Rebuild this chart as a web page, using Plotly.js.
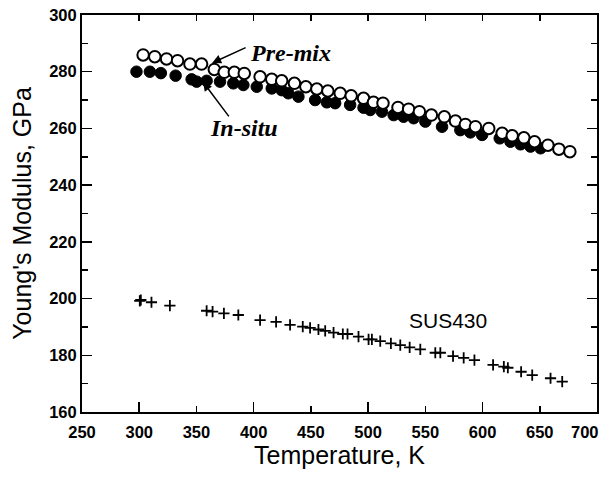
<!DOCTYPE html>
<html>
<head>
<meta charset="utf-8">
<script src="https://cdn.plot.ly/plotly-3.0.1.min.js"></script>
<style>html,body{margin:0;padding:0;background:#fff;}#chart{width:609px;height:477px;}</style>
</head>
<body>
<div id="chart"></div>
<script>
// Pre-mix (open circles)
const premixT = [303.4, 313.6, 323.9, 333.5, 344.3, 354.5, 365.6, 374.3, 383.1, 391.8, 405.6, 415.8, 424.5,
  435.6, 445.6, 455.2, 464.8, 475.6, 485.2, 496.0, 504.7, 513.0, 526.1, 535.4, 544.8, 555.3,
  566.6, 576.3, 585.0, 593.8, 605.4, 617.1, 625.9, 636.1, 645.4, 657.1, 666.7, 676.3];
const premixE = [285.9, 285.3, 284.5, 283.9, 282.7, 282.7, 280.8, 279.8, 279.8, 279.4, 278.2, 277.3, 276.8,
  275.9, 274.7, 273.9, 273.2, 272.4, 271.5, 270.6, 269.2, 268.9, 267.4, 266.8, 265.9, 264.7,
  264.1, 262.6, 261.4, 260.6, 260.0, 258.3, 257.4, 256.7, 255.3, 254.1, 252.7, 251.8];
// In-situ (filled circles)
const insituT = [297.6, 309.3, 318.9, 331.8, 345.8, 350.2, 358.9, 370.6, 382.2, 391.0, 402.7, 415.8, 424.5,
  430.3, 439.1, 453.7, 463.9, 471.2, 484.3, 496.0, 501.9, 512.1, 522.3, 531.0, 539.8, 550.0, 564.6,
  580.6, 589.4, 599.6, 615.0, 624.4, 633.2, 641.9, 650.7];
const insituE = [280.0, 280.0, 279.5, 278.6, 277.3, 276.5, 276.8, 276.5, 275.9, 275.3, 274.7, 274.1, 273.5,
  272.4, 271.2, 270.0, 269.2, 268.9, 268.3, 267.3, 266.5, 265.9, 264.7, 264.1, 263.6, 262.4, 260.6,
  259.4, 258.6, 257.7, 256.5, 255.3, 254.4, 253.6, 253.0];
// SUS430 (plus markers)
const susT = [300.5, 301.4, 310.7, 326.8, 358.9, 364.1, 374.0, 386.6, 405.6, 419.6, 431.8, 442.9, 449.3,
  456.6, 462.5, 469.8, 477.9, 482.0, 491.6, 500.4, 503.3, 510.6, 519.9, 528.1, 536.3, 545.6, 558.7,
  563.1, 574.2, 583.5, 592.9, 609.2, 618.6, 622.1, 633.7, 643.4, 659.4, 669.6];
const susE = [199.2, 199.5, 198.7, 197.5, 195.7, 195.4, 194.8, 194.2, 192.4, 191.8, 190.7, 190.1, 189.7,
  189.1, 188.6, 188.0, 187.5, 187.5, 186.6, 185.6, 185.6, 185.0, 184.2, 183.6, 182.8, 182.1, 180.9,
  180.9, 179.7, 179.1, 178.3, 176.6, 176.0, 175.6, 174.2, 173.0, 171.9, 170.7];

const xTickVals = [250, 300, 350, 400, 450, 500, 550, 600, 650, 700];
const xTickText = ['250', '300', '350', '400', '450', '500', '550', '600', '650', ''];
const xLastLabel = '700';
const xMajorVals = [300, 400, 500, 600];
const yTickVals = [160, 180, 200, 220, 240, 260, 280, 300];

const traces = [
  {x: insituT, y: insituE, type: 'scatter', mode: 'markers', name: 'In-situ',
   marker: {symbol: 'circle', size: 11.5, color: '#000', line: {color: '#000', width: 1}}},
  {x: premixT, y: premixE, type: 'scatter', mode: 'markers', name: 'Pre-mix',
   marker: {symbol: 'circle', size: 11.5, color: '#fff', line: {color: '#000', width: 2}}},
  {x: susT, y: susE, type: 'scatter', mode: 'markers', name: 'SUS430',
   marker: {symbol: 'cross-thin-open', size: 8, color: '#000', line: {color: '#000', width: 1.8}}},
  {x: [xMajorVals[0]], y: [yTickVals[0]], xaxis: 'x2', type: 'scatter', mode: 'markers',
   marker: {opacity: 0}, hoverinfo: 'skip', showlegend: false}
];

const tickFont = {family: 'Arial', size: 16.5, color: '#000', weight: 'bold'};
const titleFont = {family: 'Liberation Sans, Arial, sans-serif', size: 25, color: '#000'};
const annFont = {family: 'Liberation Serif, Times New Roman, serif', size: 24, color: '#000', weight: 'bold', style: 'italic'};

const layout = {
  width: 609, height: 477,
  margin: {l: 82, r: 12, t: 15, b: 65},
  paper_bgcolor: '#fff', plot_bgcolor: '#fff',
  showlegend: false,
  xaxis: {
    range: [250, 700], tickvals: xTickVals, ticktext: xTickText,
    ticks: 'inside', ticklen: 6, tickwidth: 1.5, tickcolor: '#000', ticklabeloverflow: 'allow',
    showline: true, linecolor: '#000', linewidth: 2, mirror: 'ticks', showgrid: false, zeroline: false,
    tickfont: tickFont, ticklabelstandoff: 4,
    title: {text: 'Temperature, K', font: titleFont, standoff: 6}
  },
  xaxis2: {
    range: [250, 700], overlaying: 'x', side: 'bottom', tickvals: xMajorVals, ticks: 'inside',
    ticklen: 10, tickwidth: 1.5, tickcolor: '#000', showticklabels: false, showline: false,
    showgrid: false, zeroline: false
  },
  yaxis: {
    range: [160, 300], tickvals: yTickVals,
    ticks: 'inside', ticklen: 10, tickwidth: 1.5, tickcolor: '#000', ticklabeloverflow: 'allow',
    minor: {dtick: 10, ticks: 'inside', ticklen: 6, tickwidth: 1.5, tickcolor: '#000', showgrid: false},
    showline: true, linecolor: '#000', linewidth: 2, mirror: 'ticks', showgrid: false, zeroline: false,
    tickfont: tickFont,
    title: {text: "Young's Modulus, GPa", font: titleFont, standoff: 10}
  },
  annotations: [
    {x: xTickVals[xTickVals.length - 1], y: 0, xref: 'x', yref: 'paper', text: xLastLabel, showarrow: false,
     xanchor: 'right', yanchor: 'middle', xshift: 4, yshift: -20, font: tickFont},
    {x: 431.8, y: 286.6, xref: 'x', yref: 'y', text: 'Pre-mix', showarrow: false, font: annFont},
    {x: 363.7, y: 283.1, xref: 'x', yref: 'y', text: '', showarrow: true, ax: 35, ay: -16,
     arrowhead: 2, arrowsize: 1.2, arrowwidth: 1.5, arrowcolor: '#000'},
    {x: 391.8, y: 260.1, xref: 'x', yref: 'y', text: 'In-situ', showarrow: false, font: annFont},
    {x: 355.7, y: 276.4, xref: 'x', yref: 'y', text: '', showarrow: true, ax: 27, ay: 36,
     arrowhead: 2, arrowsize: 1.2, arrowwidth: 1.5, arrowcolor: '#000'},
    {x: 570.1, y: 192.4, xref: 'x', yref: 'y', text: 'SUS430', showarrow: false,
     font: {family: 'Liberation Sans, Arial, sans-serif', size: 21, color: '#000'}}
  ]
};

Plotly.newPlot('chart', traces, layout, {displayModeBar: false, staticPlot: true});
</script>
</body>
</html>
